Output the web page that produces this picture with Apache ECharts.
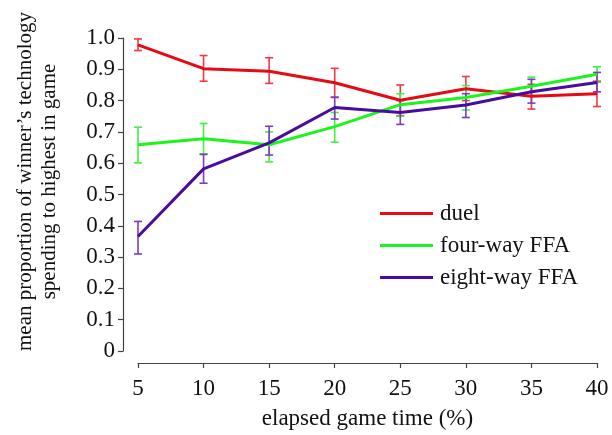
<!DOCTYPE html>
<html>
<head>
<meta charset="utf-8">
<script src="https://cdn.jsdelivr.net/npm/echarts@6/dist/echarts.min.js"></script>
<style>html,body{margin:0;padding:0;background:#fff}#c{width:612px;height:435px}</style>
</head>
<body>
<div id="c"></div>
<script>
var times = [5, 10, 15, 20, 25, 30, 35, 40];
var duelMean = [0.978, 0.902, 0.894, 0.857, 0.801, 0.838, 0.814, 0.822];
var duelLow  = [0.960, 0.862, 0.855, 0.810, 0.752, 0.800, 0.773, 0.781];
var duelHigh = [0.997, 0.944, 0.937, 0.903, 0.850, 0.877, 0.852, 0.862];
var fourMean = [0.659, 0.678, 0.659, 0.717, 0.787, 0.810, 0.846, 0.884];
var fourLow  = [0.601, 0.630, 0.604, 0.667, 0.750, 0.770, 0.815, 0.858];
var fourHigh = [0.715, 0.727, 0.700, 0.762, 0.822, 0.848, 0.875, 0.908];
var eightMean = [0.366, 0.582, 0.665, 0.778, 0.762, 0.786, 0.828, 0.858];
var eightLow  = [0.310, 0.536, 0.626, 0.741, 0.724, 0.746, 0.792, 0.828];
var eightHigh = [0.414, 0.628, 0.718, 0.811, 0.800, 0.822, 0.868, 0.890];
var yTicks = [0, 0.1, 0.2, 0.3, 0.4, 0.5, 0.6, 0.7, 0.8, 0.9, 1.0];
var seriesNames = ['duel', 'four-way FFA', 'eight-way FFA'];
var colors = ['#e60a14', '#1cf51c', '#4a0c9e'];
var errColors = ['#ee3a44', '#44ee44', '#7a3cc0'];

var font = 'Liberation Serif';
var means = [duelMean, fourMean, eightMean];
var lows = [duelLow, fourLow, eightLow];
var highs = [duelHigh, fourHigh, eightHigh];

function errSeries(i) {
  var data = times.map(function (t, k) { return [t, lows[i][k], highs[i][k]]; });
  return {
    type: 'custom',
    name: seriesNames[i] + ' err',
    data: data,
    z: 1,
    renderItem: function (params, api) {
      var lo = api.coord([api.value(0), api.value(1)]);
      var hi = api.coord([api.value(0), api.value(2)]);
      var w = 4;
      var st = { stroke: errColors[i], lineWidth: 1.6 };
      return {
        type: 'group',
        children: [
          { type: 'line', shape: { x1: lo[0], y1: lo[1], x2: hi[0], y2: hi[1] }, style: st },
          { type: 'line', shape: { x1: lo[0] - w, y1: lo[1], x2: lo[0] + w, y2: lo[1] }, style: st },
          { type: 'line', shape: { x1: hi[0] - w, y1: hi[1], x2: hi[0] + w, y2: hi[1] }, style: st }
        ]
      };
    },
    silent: true
  };
}

function lineSeries(i) {
  return {
    type: 'line',
    name: seriesNames[i],
    data: times.map(function (t, k) { return [t, means[i][k]]; }),
    symbol: 'none',
    lineStyle: { color: colors[i], width: 3 },
    itemStyle: { color: colors[i] },
    z: 2
  };
}

var chart = echarts.init(document.getElementById('c'), null, { renderer: 'canvas' });
chart.setOption({
  animation: false,
  backgroundColor: '#fff',
  textStyle: { fontFamily: font },
  grid: { left: 138, right: 15, top: 38, bottom: 73 },
  legend: {
    data: seriesNames,
    orient: 'vertical',
    left: 375,
    top: 197,
    itemWidth: 53,
    itemHeight: 3,
    itemGap: 9,
    icon: 'rect',
    textStyle: { fontFamily: font, fontSize: 23, lineHeight: 23, color: '#111', padding: [0, 0, 0, 2] }
  },
  xAxis: {
    type: 'value',
    min: 5, max: 40, interval: 5,
    offset: 12,
    name: 'elapsed game time (%)',
    nameLocation: 'middle',
    nameGap: 44,
    nameTextStyle: { fontFamily: font, fontSize: 23, color: '#111' },
    axisLine: { show: true, onZero: false, lineStyle: { color: '#444', width: 1.2 } },
    axisTick: { show: true, length: 5, lineStyle: { color: '#444', width: 1.2 } },
    axisLabel: { fontFamily: font, fontSize: 23, color: '#111', margin: 14 },
    splitLine: { show: false }
  },
  yAxis: {
    type: 'value',
    min: 0, max: 1, interval: 0.1,
    offset: 15,
    name: "mean proportion of winner\u2019s technology\nspending to highest in game",
    nameLocation: 'middle',
    nameGap: 62,
    nameTextStyle: { fontFamily: font, fontSize: 21, color: '#111', lineHeight: 24, padding: [0, 0, 0, 26] },
    axisLine: { show: true, onZero: false, lineStyle: { color: '#444', width: 1.2 } },
    axisTick: { show: true, length: 5, lineStyle: { color: '#444', width: 1.2 } },
    axisLabel: {
      fontFamily: font, fontSize: 23, color: '#111', margin: 8,
      formatter: function (v) {
        var r = Math.round(v * 10) / 10;
        return r === 0 ? '0' : r.toFixed(1);
      }
    },
    splitLine: { show: false }
  },
  series: [errSeries(0), errSeries(1), errSeries(2), lineSeries(0), lineSeries(1), lineSeries(2)]
});
</script>
</body>
</html>
